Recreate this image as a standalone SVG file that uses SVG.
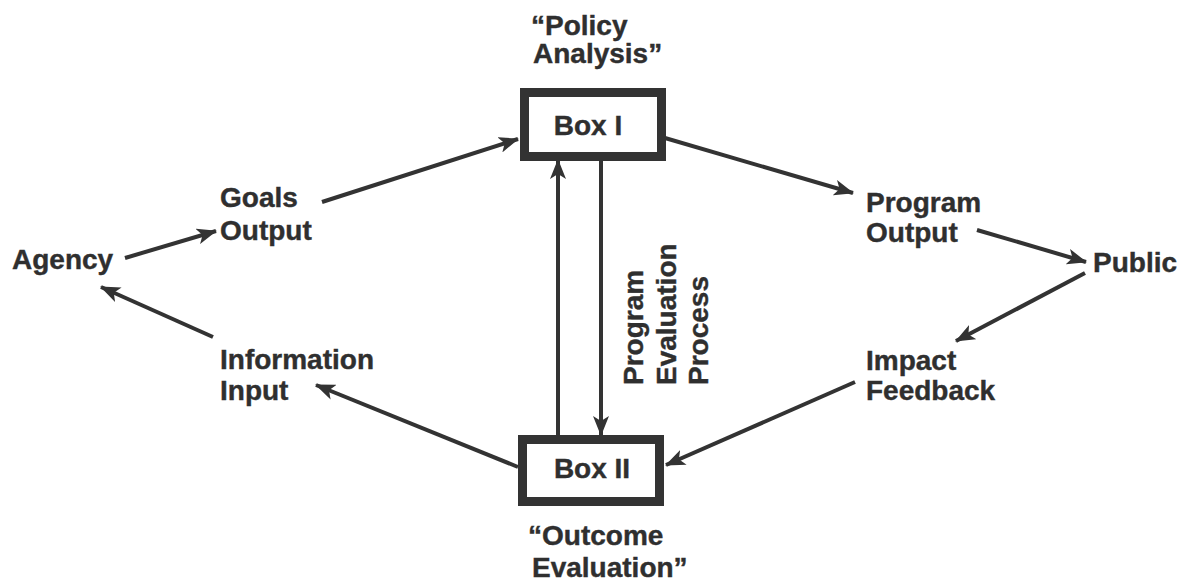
<svg xmlns="http://www.w3.org/2000/svg" width="1185" height="582" viewBox="0 0 1185 582">
  <style>
    .t { font-family: "Liberation Sans", Arial, sans-serif; font-weight: bold; font-size: 28px; fill: #2f2f2f; stroke: #2f2f2f; stroke-width: 0.4; }
    .c { stroke: #333333; stroke-width: 4; fill: none; marker-end: url(#ah); }
    .box { fill: #ffffff; stroke: #333333; stroke-width: 9; }
  </style>
  <defs>
    <marker id="ah" markerUnits="userSpaceOnUse" markerWidth="22" markerHeight="16" refX="19" refY="8" orient="auto">
      <path d="M0,0 L20,8 L0,16 L5,8 z" fill="#333333"/>
    </marker>
  </defs>
  <rect width="1185" height="582" fill="#ffffff"/>

  <g id="connectors">
    <line class="c" x1="125" y1="258" x2="216" y2="231"/>
    <line class="c" x1="322" y1="202" x2="518" y2="139"/>
    <line class="c" x1="665" y1="138" x2="853" y2="193"/>
    <line class="c" x1="977" y1="230" x2="1086" y2="262"/>
    <line class="c" x1="1085" y1="273" x2="956" y2="341"/>
    <line class="c" x1="855" y1="382" x2="666" y2="465"/>
    <line class="c" x1="518" y1="467" x2="316" y2="385"/>
    <line class="c" x1="213" y1="337" x2="101" y2="287"/>
    <line class="c" x1="558" y1="435" x2="558" y2="160"/>
    <line class="c" x1="601" y1="160" x2="601" y2="435"/>
  </g>

  <g id="box1">
    <rect class="box" x="524.5" y="92.5" width="137" height="64"/>
    <text class="t" x="588" y="135" text-anchor="middle">Box I</text>
  </g>
  <g id="policy-analysis">
    <text class="t" x="531" y="35">“Policy</text>
    <text class="t" x="533" y="63">Analysis”</text>
  </g>

  <g id="box2">
    <rect class="box" x="522.5" y="439.5" width="137" height="62"/>
    <text class="t" x="592" y="478" text-anchor="middle">Box II</text>
  </g>
  <g id="outcome-evaluation">
    <text class="t" x="528" y="545">“Outcome</text>
    <text class="t" x="532" y="577">Evaluation”</text>
  </g>

  <g id="agency">
    <text class="t" x="12" y="269">Agency</text>
  </g>
  <g id="goals-output">
    <text class="t" x="220" y="207">Goals</text>
    <text class="t" x="220" y="240">Output</text>
  </g>
  <g id="information-input">
    <text class="t" x="220" y="369">Information</text>
    <text class="t" x="220" y="400">Input</text>
  </g>
  <g id="program-output">
    <text class="t" x="866" y="212">Program</text>
    <text class="t" x="866" y="242">Output</text>
  </g>
  <g id="public">
    <text class="t" x="1093" y="272">Public</text>
  </g>
  <g id="impact-feedback">
    <text class="t" x="866" y="370">Impact</text>
    <text class="t" x="866" y="400">Feedback</text>
  </g>
  <g id="program-evaluation-process">
    <text class="t" x="643" y="385" transform="rotate(-90 643 385)">Program</text>
    <text class="t" x="676" y="385" transform="rotate(-90 676 385)">Evaluation</text>
    <text class="t" x="708" y="385" transform="rotate(-90 708 385)">Process</text>
  </g>
</svg>
